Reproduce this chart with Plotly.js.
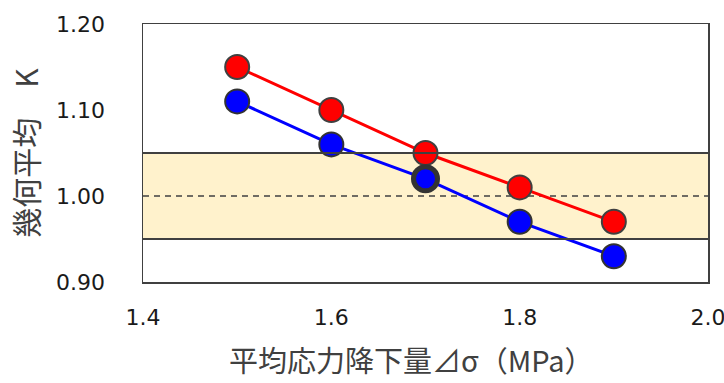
<!DOCTYPE html>
<html><head><meta charset="utf-8">
<script src="https://cdn.plot.ly/plotly-3.0.1.min.js"></script>
<style>html,body{margin:0;padding:0;background:#fff}</style>
</head><body>
<div id="chart" style="width:724px;height:383px"></div>
<script>
const xValues = [1.5, 1.6, 1.7, 1.8, 1.9];
const redValues = [1.15, 1.10, 1.05, 1.01, 0.97];
const blueValues = [1.11, 1.06, 1.02, 0.97, 0.93];
const blueOutline = [2, 2, 5, 2, 2];
const bandLow = 0.95, bandMid = 1.00, bandHigh = 1.05;
const xTitle = '平均応力降下量⊿σ（MPa）';
const yTitle = '幾何平均　K';

const font = "Verdana, 'DejaVu Sans', 'Noto Sans CJK JP', sans-serif";
const jpFont = "'Noto Sans CJK JP', 'DejaVu Sans', sans-serif";

const traces = [
  {x: xValues, y: redValues, mode: 'lines+markers', type: 'scatter',
   line: {color: '#FF0000', width: 3},
   marker: {color: '#FF0000', size: 24, line: {color: '#404040', width: 2}}},
  {x: xValues, y: blueValues, mode: 'lines+markers', type: 'scatter',
   line: {color: '#0000FF', width: 3},
   marker: {color: '#0000FF', size: 24, line: {color: '#333333', width: blueOutline}}}
];

const layout = {
  width: 724, height: 383,
  margin: {l: 142.5, r: 16, t: 23.5, b: 100.5},
  paper_bgcolor: '#fff', plot_bgcolor: '#fff',
  showlegend: false,
  xaxis: {range: [1.4, 2.0], dtick: 0.2, tick0: 1.4, tickformat: '.1f',
    showgrid: false, zeroline: false, showline: true, mirror: true,
    linecolor: '#404040', linewidth: 1.5, ticks: '',
    ticklabelstandoff: 15, ticklabeloverflow: 'allow',
    tickfont: {family: font, size: 22, color: '#1a1a1a'}},
  yaxis: {range: [0.90, 1.20], dtick: 0.1, tick0: 0.9, tickformat: '.2f',
    showgrid: false, zeroline: false, showline: true, mirror: true,
    linecolor: '#404040', linewidth: 1.5, ticks: '',
    ticklabelstandoff: 32,
    tickfont: {family: font, size: 22, color: '#1a1a1a'},
    title: {text: yTitle, font: {family: jpFont, size: 30, color: '#404040'}, standoff: 8}},
  annotations: [
    {text: xTitle, xref: 'paper', yref: 'paper', x: 0.475, y: -0.30,
     xanchor: 'center', yanchor: 'middle', showarrow: false,
     font: {family: jpFont, size: 29, color: '#404040'}}
  ],
  shapes: [
    {type: 'rect', xref: 'paper', x0: 0, x1: 1, yref: 'y', y0: bandLow, y1: bandHigh,
     fillcolor: '#FFF2CC', line: {width: 0}, layer: 'below'},
    {type: 'line', xref: 'paper', x0: 0, x1: 1, yref: 'y', y0: bandHigh, y1: bandHigh,
     line: {color: '#404040', width: 2}, layer: 'above'},
    {type: 'line', xref: 'paper', x0: 0, x1: 1, yref: 'y', y0: bandLow, y1: bandLow,
     line: {color: '#404040', width: 2}, layer: 'above'},
    {type: 'line', xref: 'paper', x0: 0, x1: 1, yref: 'y', y0: bandMid, y1: bandMid,
     line: {color: '#404040', width: 1.5, dash: '6px,5px'}, layer: 'below'}
  ]
};
Plotly.newPlot('chart', traces, layout, {displayModeBar: false, staticPlot: true});
</script>
</body></html>
